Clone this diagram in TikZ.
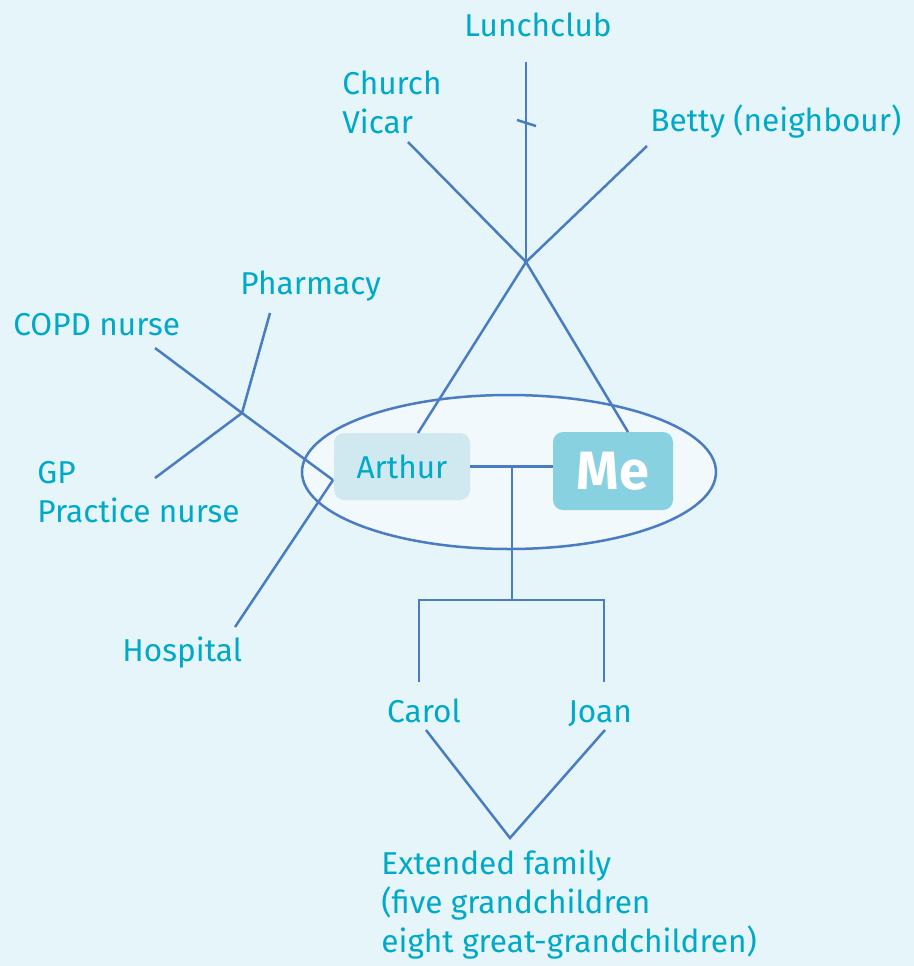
\documentclass[tikz,border=0pt]{standalone}
\usepackage{fontspec}
\setmainfont{Fira Sans}
\usetikzlibrary{positioning,calc,shapes.geometric}
\definecolor{paper}{HTML}{E6F5F9}
\definecolor{ink}{HTML}{00A9C8}
\definecolor{wire}{HTML}{4A7CC4}
\definecolor{inner}{HTML}{F1F9FC}
\definecolor{pale}{HTML}{D0E9F0}
\definecolor{strong}{HTML}{88D1E0}

\begin{document}
\begin{tikzpicture}[
  x=0.5pt, y=-0.5pt,
  lbl/.style={font=\fontsize{15.8}{19.5}\selectfont, text=ink, inner sep=0pt, align=left},
  person/.style={rounded corners=5pt, inner sep=0pt},
  link/.style={draw=wire, line width=1.25pt}
]
  % background
  \fill[paper] (0,0) rectangle (914,966);
  \useasboundingbox (0,0) rectangle (914,966);

  % household
  \draw[link, fill=inner] (509,472) ellipse [x radius=207, y radius=77];
  \node[person, fill=pale, minimum width=68pt, minimum height=33.5pt] (arthur) at (402,466.5) {};
  \node[lbl] at (arthur.center) {Arthur};
  \node[person, fill=strong, minimum width=60pt, minimum height=39pt] (me) at (613,471) {};
  \node[font=\fontsize{27}{30}\bfseries\selectfont, text=white] at (me.center) {Me};

  % community
  \node[lbl] (lunch) at (538,25) {Lunchclub};
  \node[lbl, anchor=west] (church) at (342,102) {Church\\Vicar};
  \node[lbl, anchor=west] (betty) at (650,122) {Betty (neighbour)};
  \coordinate (hubtop) at (526,262);
  \coordinate (lunchend) at (526,62);
  \coordinate (tickA) at (517,120);
  \coordinate (tickB) at (536,126);
  \coordinate (churchend) at (408,142);
  \coordinate (bettyend) at (647,146);
  \coordinate (arthurtop) at (418,433);
  \coordinate (metop) at (628,432);
  \draw[link] (lunchend) -- (hubtop);
  \draw[link] (tickA) -- (tickB);
  \draw[link] (churchend) -- (hubtop);
  \draw[link] (bettyend) -- (hubtop);
  \draw[link] (hubtop) -- (arthurtop);
  \draw[link] (hubtop) -- (metop);

  % health services
  \node[lbl, anchor=west] (pharmacy) at (240,286) {Pharmacy};
  \node[lbl, anchor=west] (copd) at (13,325) {COPD nurse};
  \node[lbl, anchor=west] (gp) at (37,492) {GP\\Practice nurse};
  \node[lbl, anchor=west] (hospital) at (122,653) {Hospital};
  \coordinate (hubleft) at (242,413);
  \coordinate (arthurside) at (333,480);
  \coordinate (copdend) at (155,348);
  \coordinate (pharmend) at (270,313);
  \coordinate (gpend) at (155,478);
  \coordinate (hospend) at (235,627);
  \draw[link] (copdend) -- (hubleft) -- (arthurside);
  \draw[link] (pharmend) -- (hubleft);
  \draw[link] (gpend) -- (hubleft);
  \draw[link] (arthurside) -- (hospend);

  % children
  \coordinate (mid) at (512,467);
  \coordinate (split) at (512,600);
  \coordinate (carolend) at (419,682);
  \coordinate (joanend) at (604,682);
  \draw[link] (arthur.east) -- (arthur.east -| me.west);
  \draw[link] (mid) -- (split);
  \draw[link] (carolend) |- (split) -| (joanend);
  \node[lbl, anchor=base] (carol) at (424,722) {Carol};
  \node[lbl, anchor=base] (joan) at (600,722) {Joan};
  \coordinate (famhub) at (510,838);
  \coordinate (carolfoot) at (426,730);
  \coordinate (joanfoot) at (605,730);
  \draw[link] (carolfoot) -- (famhub) -- (joanfoot);
  \node[lbl, anchor=west] (family) at (381,905)
    {Extended family\\(five grandchildren\\eight great-grandchildren)};
\end{tikzpicture}
\end{document}
